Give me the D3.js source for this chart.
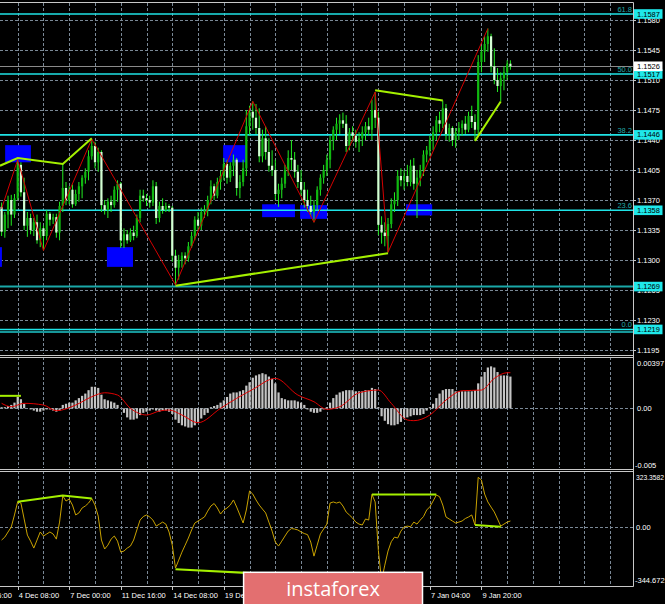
<!DOCTYPE html>
<html><head><meta charset="utf-8">
<script src="https://cdn.jsdelivr.net/npm/d3@7"></script>
<style>html,body{margin:0;padding:0;background:#000;overflow:hidden}svg{display:block}</style>
</head><body>
<script>
// ---------- DATA (EURUSD H4) ----------
const openP=[1.1362,1.1333,1.1353,1.1370,1.1353,1.1372,1.1411,1.1379,1.1340,1.1349,
1.1335,1.1344,1.1323,1.1337,1.1328,1.1354,1.1347,1.1350,1.1332,1.1363,
1.1384,1.1370,1.1382,1.1365,1.1377,1.1386,1.1396,1.1403,1.1421,1.1433,
1.1414,1.1426,1.1364,1.1358,1.1368,1.1364,1.1382,1.1389,1.1323,1.1330,
1.1323,1.1332,1.1328,1.1349,1.1375,1.1372,1.1370,1.1367,1.1386,1.1349,
1.1363,1.1358,1.1363,1.1361,1.1305,1.1291,1.1300,1.1305,1.1302,1.1316,
1.1328,1.1347,1.1340,1.1356,1.1358,1.1370,1.1386,1.1375,1.1391,1.1398,
1.1412,1.1396,1.1410,1.1417,1.1384,1.1391,1.1407,1.1456,1.1473,1.1466,
1.1454,1.1421,1.1442,1.1426,1.1410,1.1405,1.1377,1.1382,1.1389,1.1405,
1.1419,1.1417,1.1403,1.1391,1.1382,1.1370,1.1363,1.1356,1.1364,1.1382,
1.1396,1.1405,1.1417,1.1440,1.1452,1.1459,1.1463,1.1459,1.1433,1.1449,
1.1445,1.1438,1.1442,1.1449,1.1456,1.1452,1.1475,1.1466,1.1341,1.1332,
1.1328,1.1342,1.1365,1.1370,1.1398,1.1393,1.1398,1.1391,1.1410,1.1389,
1.1396,1.1405,1.1423,1.1428,1.1440,1.1449,1.1463,1.1459,1.1477,1.1447,
1.1454,1.1440,1.1449,1.1454,1.1459,1.1452,1.1468,1.1461,1.1452,1.1531,
1.1543,1.1552,1.1561,1.1526,1.1510,1.1503,1.1512,1.1519,1.1529];
const highP=[1.1367,1.1356,1.1375,1.1376,1.1377,1.1417,1.1414,1.1396,1.1356,1.1354,
1.1349,1.1353,1.1344,1.1340,1.1358,1.1356,1.1354,1.1354,1.1368,1.1412,
1.1391,1.1386,1.1388,1.1382,1.1391,1.1399,1.1407,1.1428,1.1441,1.1438,
1.1431,1.1428,1.1370,1.1372,1.1375,1.1386,1.1393,1.1391,1.1337,1.1335,
1.1337,1.1340,1.1353,1.1382,1.1382,1.1377,1.1375,1.1393,1.1391,1.1368,
1.1372,1.1367,1.1365,1.1363,1.1312,1.1306,1.1309,1.1309,1.1321,1.1333,
1.1351,1.1356,1.1361,1.1364,1.1375,1.1393,1.1389,1.1396,1.1405,1.1419,
1.1417,1.1414,1.1423,1.1419,1.1399,1.1417,1.1475,1.1480,1.1485,1.1482,
1.1477,1.1452,1.1456,1.1442,1.1428,1.1417,1.1389,1.1396,1.1411,1.1428,
1.1440,1.1426,1.1411,1.1405,1.1391,1.1382,1.1375,1.1370,1.1386,1.1400,
1.1411,1.1423,1.1445,1.1456,1.1466,1.1470,1.1472,1.1469,1.1454,1.1456,
1.1452,1.1449,1.1456,1.1461,1.1466,1.1487,1.1496,1.1473,1.1351,1.1344,
1.1349,1.1372,1.1379,1.1405,1.1407,1.1405,1.1411,1.1417,1.1419,1.1405,
1.1411,1.1428,1.1433,1.1445,1.1456,1.1468,1.1473,1.1486,1.1482,1.1459,
1.1456,1.1454,1.1461,1.1463,1.1468,1.1473,1.1480,1.1470,1.1539,1.1550,
1.1561,1.1570,1.1564,1.1547,1.1524,1.1519,1.1526,1.1533,1.1533];
const lowP=[1.1328,1.1326,1.1337,1.1340,1.1349,1.1370,1.1374,1.1335,1.1327,1.1330,
1.1328,1.1319,1.1315,1.1311,1.1323,1.1340,1.1342,1.1326,1.1323,1.1356,
1.1364,1.1365,1.1361,1.1363,1.1368,1.1372,1.1389,1.1393,1.1417,1.1407,
1.1403,1.1356,1.1353,1.1349,1.1356,1.1361,1.1368,1.1314,1.1314,1.1319,
1.1321,1.1323,1.1326,1.1344,1.1368,1.1363,1.1361,1.1363,1.1342,1.1344,
1.1354,1.1356,1.1356,1.1298,1.1271,1.1277,1.1291,1.1295,1.1298,1.1314,
1.1323,1.1335,1.1335,1.1349,1.1351,1.1365,1.1370,1.1372,1.1382,1.1393,
1.1389,1.1391,1.1398,1.1375,1.1372,1.1386,1.1398,1.1446,1.1452,1.1447,
1.1414,1.1414,1.1417,1.1403,1.1398,1.1370,1.1362,1.1372,1.1384,1.1398,
1.1405,1.1396,1.1384,1.1375,1.1361,1.1356,1.1351,1.1344,1.1358,1.1375,
1.1389,1.1398,1.1407,1.1428,1.1440,1.1447,1.1454,1.1426,1.1428,1.1438,
1.1431,1.1426,1.1433,1.1440,1.1445,1.1440,1.1454,1.1329,1.1319,1.1316,
1.1309,1.1337,1.1356,1.1363,1.1386,1.1382,1.1386,1.1386,1.1382,1.1349,
1.1386,1.1398,1.1414,1.1421,1.1428,1.1440,1.1449,1.1454,1.1440,1.1438,
1.1433,1.1431,1.1440,1.1445,1.1447,1.1449,1.1454,1.1439,1.1447,1.1519,
1.1531,1.1543,1.1519,1.1505,1.1496,1.1485,1.1498,1.1510,1.1522];
const closeP=[1.1333,1.1353,1.1370,1.1353,1.1372,1.1411,1.1379,1.1340,1.1349,1.1335,
1.1344,1.1323,1.1337,1.1328,1.1354,1.1347,1.1350,1.1332,1.1363,1.1384,
1.1370,1.1382,1.1365,1.1377,1.1386,1.1396,1.1403,1.1421,1.1433,1.1414,
1.1426,1.1364,1.1358,1.1368,1.1364,1.1382,1.1389,1.1323,1.1330,1.1323,
1.1332,1.1328,1.1349,1.1375,1.1372,1.1370,1.1367,1.1386,1.1349,1.1363,
1.1358,1.1363,1.1361,1.1305,1.1291,1.1300,1.1305,1.1302,1.1316,1.1328,
1.1347,1.1340,1.1356,1.1358,1.1370,1.1386,1.1375,1.1391,1.1398,1.1412,
1.1396,1.1410,1.1417,1.1384,1.1391,1.1407,1.1456,1.1473,1.1466,1.1454,
1.1421,1.1442,1.1426,1.1410,1.1405,1.1377,1.1382,1.1389,1.1405,1.1419,
1.1417,1.1403,1.1391,1.1382,1.1370,1.1363,1.1356,1.1364,1.1382,1.1396,
1.1405,1.1417,1.1440,1.1452,1.1459,1.1463,1.1459,1.1433,1.1449,1.1445,
1.1438,1.1442,1.1449,1.1456,1.1452,1.1475,1.1466,1.1341,1.1332,1.1328,
1.1342,1.1365,1.1370,1.1398,1.1393,1.1398,1.1391,1.1410,1.1389,1.1396,
1.1405,1.1423,1.1428,1.1440,1.1449,1.1463,1.1459,1.1477,1.1447,1.1454,
1.1440,1.1449,1.1454,1.1459,1.1452,1.1468,1.1461,1.1452,1.1531,1.1543,
1.1552,1.1561,1.1526,1.1510,1.1503,1.1512,1.1519,1.1529,1.1526];

const osma=[0.0001,0.0001,0.0002,0.0003,0.0005,0.0010,0.0008,0.0004,0,-0.0001,
-0.0002,-0.0003,-0.0003,-0.0002,-0.0001,-0.0001,-0.0002,-0.0003,-0.0002,0.0003,
0.0004,0.0005,0.0005,0.0007,0.0009,0.0011,0.0013,0.0016,0.0019,0.0019,
0.0018,0.0012,0.0008,0.0007,0.0006,0.0005,0.0003,0,-0.0004,-0.0008,
-0.0010,-0.0010,-0.0009,-0.0006,-0.0004,-0.0003,-0.0002,-0.0001,-0.0002,-0.0003,
-0.0002,-0.0002,-0.0003,-0.0005,-0.0010,-0.0013,-0.0015,-0.0016,-0.0017,-0.0017,
-0.0015,-0.0012,-0.0009,-0.0006,-0.0004,0.0001,0.0002,0.0003,0.0005,0.0007,
0.0010,0.0013,0.0014,0.0014,0.0015,0.0016,0.0020,0.0023,0.0027,0.0029,
0.0030,0.0031,0.0030,0.0028,0.0026,0.0022,0.0014,0.0009,0.0008,0.0007,
0.0007,0.0007,0.0006,0.0005,0.0003,-0.0001,-0.0003,-0.0004,-0.0004,-0.0003,
-0.0001,0.0001,0.0005,0.0009,0.0012,0.0014,0.0015,0.0016,0.0016,0.0016,
0.0015,0.0015,0.0015,0.0016,0.0016,0.0018,0.0017,0.0001,-0.0007,-0.0011,
-0.0014,-0.0015,-0.0015,-0.0014,-0.0012,-0.0009,-0.0008,-0.0007,-0.0006,-0.0006,
-0.0006,-0.0005,-0.0002,0.0001,0.0004,0.0009,0.0013,0.0016,0.0017,0.0017,
0.0017,0.0015,0.0015,0.0015,0.0015,0.0015,0.0015,0.0016,0.0022,0.0028,
0.0032,0.0036,0.0037,0.0036,0.0032,0.0029,0.0029,0.0029,0.0028];
const sigIdx=[0,3,7,13,17,23,28,32,36,40,45,49,52,56,61,68,73,78,85,92,97,101,105,111,117,121,126,128,133,138,143,149,153,157,158];
const sigVal=[0.00044,0.00014,0.00044,0.00029,-0.00021,0.00029,0.00102,0.00137,0.00117,0,-0.00059,-0.00024,-0.00015,-0.00059,-0.00127,0,0.00088,0.00167,0.00264,0.00117,0.00058,-0.00009,0.00014,0.00137,0.00161,0.00044,-0.00103,-0.00109,-0.00059,0.00073,0.00155,0.00161,0.00264,0.00314,0.00314];

const cci=[-82,-63,-30,2,80,166,157,54,-50,-89,
-134,-82,-30,-56,-43,-30,-43,-76,34,203,
170,183,144,80,93,125,138,157,186,144,
73,-82,-140,-115,-76,-56,-89,-160,-153,-134,
-121,-82,-17,47,70,80,67,47,8,21,
34,21,-30,-115,-263,-212,-160,-115,-69,-17,
28,41,54,67,105,138,154,125,86,112,
125,144,177,131,80,28,112,235,215,177,
144,118,93,34,-24,-95,-121,-89,-56,-24,
-8,-11,-17,-30,-40,-47,-95,-186,-115,-43,
-11,21,157,164,157,164,138,99,80,60,
34,21,15,54,47,213,164,-150,-344.672,-244,
-153,-93,-63,-69,-24,2,8,4,34,21,
47,69,112,133,170,209,198,144,67,54,
41,28,34,41,57,67,80,15,323.3582,306,
215,164,131,99,54,8,21,34,41];

// zigzag swing points
const zzIdx=[0,5,13,28,54,78,97,116,120,151];
const zzPrice=[1.1360,1.1417,1.1311,1.1441,1.1271,1.1485,1.1344,1.1496,1.1309,1.1570];
// lime divergence lines
const divMainIdx=[[-0.5,5,19,28],[54,120],[116,137],[147,155]];
const divMainPrice=[[1.1410,1.1419,1.1412,1.1442],[1.1270,1.1308],[1.1498,1.1486],[1.1439,1.1485]];
const divOsmaIdx=[[-0.5,6]];
const divOsmaVal=[[0.0011,0.0011]];
const divCciIdx=[[5,19,28],[54,118],[115,135],[147,155]];
const divCciVal=[[166,205,186],[-270,-340],[213,213],[15,4]];
// blue zones
const zoneStart=[-1,1.1,32.7,68.8,80.9,92.7,125.6];
const zoneEnd=[0.1,9.1,40.8,75.9,91.1,101.1,133.7];
const zoneTop=[1.1315,1.1434,1.1315,1.1434,1.1365,1.1364,1.1365];
const zoneBottom=[1.1292,1.1414,1.1292,1.1414,1.1350,1.1348,1.1352];
// Fibonacci & horizontal lines
const fibPrices=[1.1587,1.1517,1.1446,1.1358,1.1219];
const fibNames=["61.8","50.0","38.2","23.6","0.0"];
const hLinePrices=[1.1269,1.1216];
const hLineBoxed=[true,false];
const bidPrice=1.1526;
// axes
const priceTicks=[1.1580,1.1545,1.1510,1.1475,1.1440,1.1405,1.1370,1.1335,1.1300,1.1265,1.1230,1.1195];
const osmaTicks=[0.00397,0,-0.005];
const osmaTickLabels=["0.00397","0.00","-0.005"];
const cciTicks=[323.3582,0,-344.672];
const cciTickLabels=["323.3582","0.00","-344.672"];
const timeTickIdx=[-11,5,21,37,53,69,133,149];
const timeTickLabels=["29 Nov 16:00","4 Dec 08:00","7 Dec 00:00","11 Dec 16:00","14 Dec 08:00","19 Dec 00:00","7 Jan 04:00","9 Jan 20:00"];

// ---------- LAYOUT ----------
const W=665,H=604,PR=633;
const FONT="'Liberation Sans',Arial,sans-serif";
const svg=d3.select("body").append("svg").attr("width",W).attr("height",H).style("background","#000");
const x=d3.scaleLinear().domain([0,158]).range([1.6,510.4]);
const yP=d3.scaleLinear().domain([1.1195,1.1580]).range([350,20]);
const yO=d3.scaleLinear().domain([-0.005,0.00397]).range([465,363.3]);
const yC=d3.scaleLinear().domain([-344.672,323.3582]).range([580.7,477.3]);
const panels=[{t:3,b:354,id:"cm"},{t:357,b:468,id:"co"},{t:471,b:586,id:"cc"}];
const defs=svg.append("defs");
panels.forEach(p=>defs.append("clipPath").attr("id",p.id).append("rect").attr("x",0).attr("y",p.t).attr("width",PR).attr("height",p.b-p.t));
const LOGO={x:243.6,y:572.3,w:178.9,h:40};
defs.append("clipPath").attr("id","ct").append("rect").attr("x",0).attr("y",586).attr("width",LOGO.x).attr("height",18);

const gridCol="#7a8896", dash="3,2";
const gridIdx=d3.range(-3,200,8);
panels.forEach(p=>{
  svg.append("g").attr("clip-path",`url(#${p.id})`).selectAll("line").data(gridIdx).join("line")
    .attr("x1",d=>Math.round(x(d))+0.5).attr("x2",d=>Math.round(x(d))+0.5).attr("y1",p.t).attr("y2",p.b)
    .attr("stroke",gridCol).attr("stroke-dasharray",dash).attr("stroke-width",1);
});
const gM=svg.append("g").attr("clip-path","url(#cm)");
gM.selectAll("line.hg").data(priceTicks).join("line").attr("class","hg")
  .attr("x1",0).attr("x2",PR).attr("y1",d=>Math.round(yP(d))+0.5).attr("y2",d=>Math.round(yP(d))+0.5)
  .attr("stroke",gridCol).attr("stroke-dasharray",dash);
svg.append("line").attr("x1",0).attr("x2",PR).attr("y1",Math.round(yO(0))+0.5).attr("y2",Math.round(yO(0))+0.5).attr("stroke",gridCol).attr("stroke-dasharray",dash);
svg.append("line").attr("x1",0).attr("x2",PR).attr("y1",Math.round(yC(0))+0.5).attr("y2",Math.round(yC(0))+0.5).attr("stroke",gridCol).attr("stroke-dasharray",dash);

// blue zones
gM.selectAll("rect.zone").data(zoneStart).join("rect").attr("class","zone")
  .attr("x",(d,i)=>x(d)).attr("width",(d,i)=>x(zoneEnd[i])-x(d))
  .attr("y",(d,i)=>yP(zoneTop[i])).attr("height",(d,i)=>yP(zoneBottom[i])-yP(zoneTop[i]))
  .attr("fill","#0000ff");

// fib lines
gM.selectAll("line.fib").data(fibPrices).join("line").attr("class","fib")
  .attr("x1",0).attr("x2",PR).attr("y1",d=>yP(d)).attr("y2",d=>yP(d))
  .attr("stroke","#1fe3e6").attr("stroke-width",1.6);
gM.selectAll("line.hl").data(hLinePrices).join("line").attr("class","hl")
  .attr("x1",0).attr("x2",PR).attr("y1",d=>yP(d)).attr("y2",d=>yP(d))
  .attr("stroke",(d,i)=>i==0?"#1aa8a8":"#1fc8cc").attr("stroke-width",(d,i)=>i==0?2:1.4);
gM.selectAll("text.fibn").data(fibPrices).join("text").attr("class","fibn")
  .attr("x",PR-1).attr("y",d=>yP(d)-2).attr("text-anchor","end")
  .attr("font-family",FONT).attr("font-size","7.5px").attr("fill","#20a8a8").text((d,i)=>fibNames[i]);
gM.append("line").attr("x1",0).attr("x2",PR).attr("y1",Math.round(yP(bidPrice))+0.5).attr("y2",Math.round(yP(bidPrice))+0.5)
  .attr("stroke","#8a8a8a").attr("stroke-width",1);

// candles
const idx=d3.range(closeP.length);
const gC=gM.append("g");
gC.selectAll("line.wick").data(idx).join("line").attr("class","wick")
  .attr("x1",i=>x(i)).attr("x2",i=>x(i)).attr("y1",i=>yP(highP[i])).attr("y2",i=>yP(lowP[i]))
  .attr("stroke","#22ee22").attr("stroke-width",1);
gC.selectAll("rect.body").data(idx).join("rect").attr("class","body")
  .attr("x",i=>x(i)-1.1).attr("width",2.2)
  .attr("y",i=>yP(Math.max(openP[i],closeP[i])))
  .attr("height",i=>Math.max(1,Math.abs(yP(openP[i])-yP(closeP[i]))))
  .attr("fill",i=>closeP[i]>=openP[i]?"#10b810":"#d4ffd4");

gM.append("path").datum(zzIdx).attr("d",d3.line().x(i=>x(i)).y((i,k)=>yP(zzPrice[k])))
  .attr("fill","none").attr("stroke","#d40000").attr("stroke-width",1);
divMainIdx.forEach((arr,k)=>{
  gM.append("path").datum(arr).attr("d",d3.line().x(i=>x(i)).y((i,j)=>yP(divMainPrice[k][j])))
   .attr("fill","none").attr("stroke","#a4f000").attr("stroke-width",2);
});

// OsMA panel
const gO=svg.append("g").attr("clip-path","url(#co)");
gO.selectAll("rect").data(idx).join("rect")
  .attr("x",i=>x(i)-1.1).attr("width",2.2)
  .attr("y",i=>Math.min(yO(0),yO(osma[i]))).attr("height",i=>Math.abs(yO(osma[i])-yO(0)))
  .attr("fill","#c4c4c4");
gO.append("path").datum(sigIdx).attr("d",d3.line().x(i=>x(i)).y((i,k)=>yO(sigVal[k])).curve(d3.curveMonotoneX))
  .attr("fill","none").attr("stroke","#e00000").attr("stroke-width",1);
divOsmaIdx.forEach((arr,k)=>{
  gO.append("path").datum(arr).attr("d",d3.line().x(i=>x(i)).y((i,j)=>yO(divOsmaVal[k][j])))
   .attr("fill","none").attr("stroke","#a4f000").attr("stroke-width",2);
});

// CCI panel
const gCC=svg.append("g").attr("clip-path","url(#cc)");
gCC.append("path").datum(idx).attr("d",d3.line().x(i=>x(i)).y(i=>yC(cci[i])))
  .attr("fill","none").attr("stroke","#c9a200").attr("stroke-width",1);
divCciIdx.forEach((arr,k)=>{
  gCC.append("path").datum(arr).attr("d",d3.line().x(i=>x(i)).y((i,j)=>yC(divCciVal[k][j])))
   .attr("fill","none").attr("stroke","#a4f000").attr("stroke-width",2);
});

// frames
const frameCol="#c8c8c8";
[2.5,355.5,357.5,469.5,471.5,586.5].forEach(yy=>svg.append("line").attr("x1",0).attr("x2",PR+0.5).attr("y1",yy).attr("y2",yy).attr("stroke",frameCol).attr("stroke-width",1));
svg.append("line").attr("x1",PR+0.5).attr("x2",PR+0.5).attr("y1",2.5).attr("y2",586.5).attr("stroke",frameCol);

// right axis labels
const lab=(sel)=>sel.attr("font-family",FONT).attr("font-size","7.5px").attr("dy","0.35em");
svg.selectAll("line.pt").data(priceTicks).join("line").attr("class","pt")
  .attr("x1",PR).attr("x2",PR+3).attr("y1",d=>Math.round(yP(d))+0.5).attr("y2",d=>Math.round(yP(d))+0.5).attr("stroke",frameCol);
lab(svg.selectAll("text.pt").data(priceTicks).join("text").attr("class","pt")
  .attr("x",637).attr("y",d=>yP(d)).attr("fill","#fff").text(d=>d.toFixed(4)));
lab(svg.selectAll("text.ot").data(osmaTicks).join("text").attr("class","ot")
  .attr("x",(d,i)=>i==2?635:637).attr("y",d=>yO(d)).attr("fill","#fff").text((d,i)=>osmaTickLabels[i]));
lab(svg.selectAll("text.ct").data(cciTicks).join("text").attr("class","ct")
  .attr("x",(d,i)=>i==2?635:636).attr("y",d=>yC(d)).attr("fill","#fff")
  .attr("textLength",(d,i)=>i==0?28:null).attr("lengthAdjust","spacingAndGlyphs")
  .text((d,i)=>cciTickLabels[i]));

function box(price,bg){
  const g=svg.append("g");
  g.append("rect").attr("x",634).attr("y",yP(price)-4.8).attr("width",28.5).attr("height",9.6).attr("fill",bg);
  lab(g.append("text").attr("x",637).attr("y",yP(price)).attr("fill","#000").text(price.toFixed(4)));
}
fibPrices.forEach(p=>box(p,"#1fe8ea"));
hLinePrices.forEach((p,i)=>{if(hLineBoxed[i])box(p,"#1fe8ea");});
box(bidPrice,"#ffffff");

// time axis
svg.selectAll("line.tt").data(timeTickIdx).join("line").attr("class","tt")
  .attr("x1",d=>Math.round(x(d))+0.5).attr("x2",d=>Math.round(x(d))+0.5).attr("y1",586.5).attr("y2",590)
  .attr("stroke",frameCol);
svg.append("g").selectAll("text.tt").data(timeTickIdx).join("text").attr("class","tt")
  .attr("clip-path",d=>x(d)+40>LOGO.x&&x(d)<LOGO.x?"url(#ct)":null)
  .attr("x",d=>x(d)+1).attr("y",597.5).attr("font-family",FONT).attr("font-size","7.5px").attr("fill","#fff")
  .text((d,i)=>timeTickLabels[i]);

// logo
svg.append("rect").attr("x",LOGO.x).attr("y",LOGO.y).attr("width",LOGO.w).attr("height",LOGO.h)
  .attr("fill","#e36f70").attr("stroke","#ffffff").attr("stroke-width",1.5);
svg.append("text").attr("x",LOGO.x+LOGO.w/2).attr("y",595.5).attr("text-anchor","middle")
  .attr("font-family","'Open Sans','Liberation Sans',sans-serif").attr("font-size","20px").attr("fill","#fff").text("instaforex");
</script>
</body></html>
